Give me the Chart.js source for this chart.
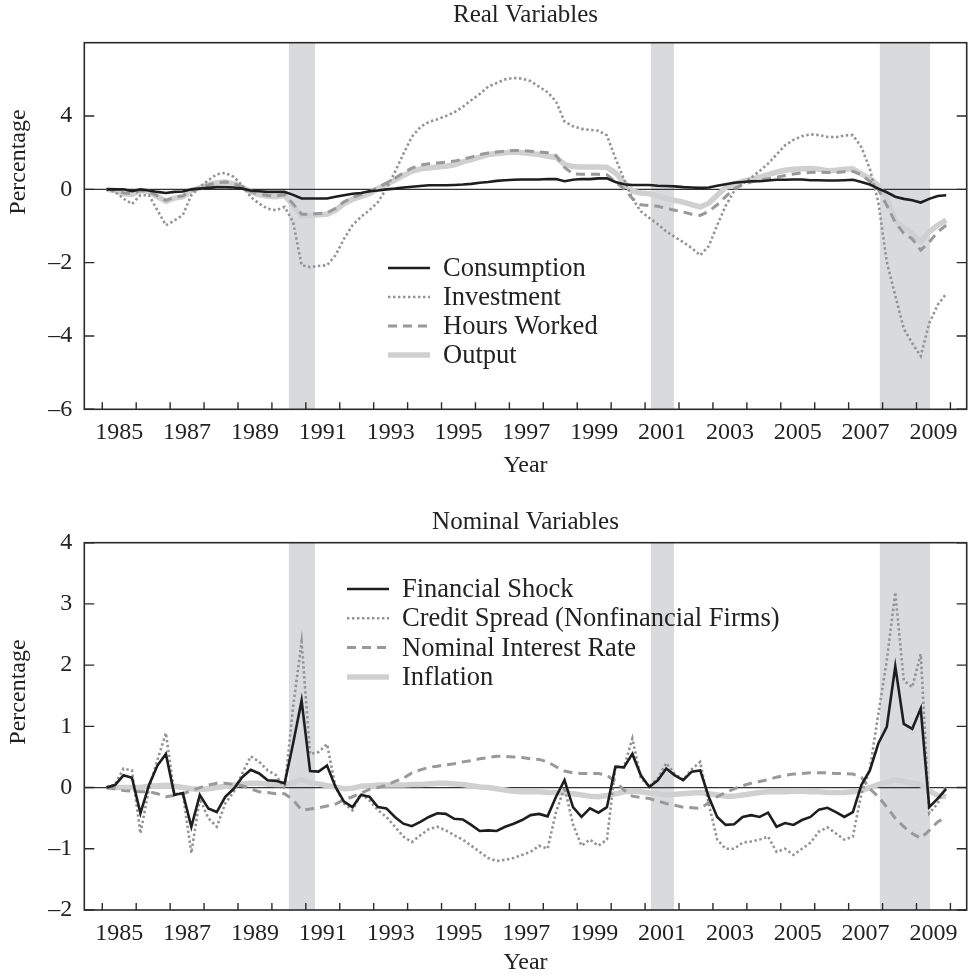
<!DOCTYPE html>
<html>
<head>
<meta charset="utf-8">
<script src="https://cdn.jsdelivr.net/npm/chart.js@4.4.1/dist/chart.umd.min.js"></script>
<style>
  body { margin: 0; background: #fff; }
  canvas { position: absolute; left: 0; }
  #real { top: 0; }
  #nominal { top: 490px; }
</style>
</head>
<body>
<canvas id="real" width="969" height="490"></canvas>
<canvas id="nominal" width="969" height="488"></canvas>
<script>
// quarters 1985Q1 .. 2009Q4, placed mid-quarter
const quarterX = [];
for (let yr = 1985; yr <= 2009; yr++) {
  for (let q = 1; q <= 4; q++) quarterX.push(yr + (q - 0.5) / 4);
}

const tickYears = [1985,1986,1987,1988,1989,1990,1991,1992,1993,1994,1995,1996,1997,1998,1999,2000,2001,2002,2003,2004,2005,2006,2007,2008,2009,2010];
const labelYears = [1985,1987,1989,1991,1993,1995,1997,1999,2001,2003,2005,2007,2009];
const xTickLabels = ["1985","1987","1989","1991","1993","1995","1997","1999","2001","2003","2005","2007","2009"];

const recessionStart = [1990.5, 2001.17, 2007.92];
const recessionEnd = [1991.27, 2001.85, 2009.4];

const realTicks = [-6, -4, -2, 0, 2];
const realTickLabels = ["\u20136", "\u20134", "\u20132", "0", "4"];
const nominalTicks = [-2, -1, 0, 1, 2, 3, 4];
const nominalTickLabels = ["\u20132", "\u20131", "0", "1", "2", "3", "4"];

// Real variables
const consumption = [
  0, 0, 0, -0.05, 0, -0.03, -0.07, -0.1, -0.07, -0.06,
  0, 0.02, 0.04, 0.06, 0.06, 0.05, 0.02, -0.03, -0.05, -0.07,
  -0.07, -0.07, -0.15, -0.25, -0.25, -0.25, -0.25, -0.2, -0.16, -0.12,
  -0.1, -0.05, -0.03, 0, 0.02, 0.05, 0.07, 0.09, 0.11, 0.11,
  0.11, 0.12, 0.13, 0.15, 0.18, 0.2, 0.23, 0.25, 0.26, 0.27,
  0.27, 0.27, 0.28, 0.28, 0.22, 0.26, 0.28, 0.28, 0.3, 0.3,
  0.2, 0.14, 0.12, 0.12, 0.12, 0.1, 0.09, 0.08, 0.06, 0.05,
  0.04, 0.05, 0.1, 0.14, 0.18, 0.2, 0.22, 0.22, 0.24, 0.26,
  0.26, 0.27, 0.27, 0.25, 0.25, 0.24, 0.24, 0.25, 0.26, 0.2,
  0.13, 0.02, -0.08, -0.2, -0.26, -0.3, -0.36, -0.26, -0.18, -0.16
];
const investment = [
  0, -0.07, -0.25, -0.4, -0.16, -0.16, -0.57, -0.98, -0.85, -0.7,
  -0.16, 0.06, 0.25, 0.41, 0.45, 0.34, 0.11, -0.21, -0.39, -0.53,
  -0.57, -0.48, -0.89, -2.07, -2.12, -2.09, -2.07, -1.8, -1.35, -0.98,
  -0.75, -0.57, -0.35, 0.02, 0.47, 0.97, 1.43, 1.7, 1.84, 1.91,
  2.0, 2.1, 2.25, 2.43, 2.6, 2.8, 2.9, 3.0, 3.04, 3.02,
  2.95, 2.8, 2.65, 2.4, 1.85, 1.72, 1.65, 1.62, 1.6, 1.47,
  0.85, 0.28, -0.25, -0.6, -0.78, -0.95, -1.15, -1.3, -1.44, -1.6,
  -1.8, -1.55, -0.98, -0.45, -0.05, 0.15, 0.32, 0.5, 0.7, 0.95,
  1.2, 1.35, 1.45, 1.5, 1.48, 1.43, 1.42, 1.47, 1.48, 1.15,
  0.56, -0.35, -1.98, -2.9, -3.8, -4.2, -4.55, -3.65, -3.15, -2.85
];
const hoursWorked = [
  0, -0.02, -0.1, -0.12, -0.03, -0.06, -0.18, -0.3, -0.22, -0.18,
  -0.03, 0.04, 0.12, 0.18, 0.2, 0.16, 0.07, -0.06, -0.13, -0.17,
  -0.18, -0.15, -0.4, -0.68, -0.68, -0.66, -0.64, -0.52, -0.34, -0.22,
  -0.14, -0.06, 0.05, 0.17, 0.3, 0.45, 0.58, 0.66, 0.7, 0.72,
  0.74, 0.77, 0.82, 0.88, 0.95, 0.99, 1.02, 1.04, 1.06, 1.06,
  1.04, 1.02, 1.0, 0.92, 0.6, 0.42, 0.41, 0.41, 0.41, 0.4,
  0.2, 0.02, -0.25, -0.42, -0.44, -0.46, -0.52, -0.57, -0.62, -0.68,
  -0.71, -0.6, -0.42, -0.2, 0.02, 0.12, 0.2, 0.25, 0.29, 0.33,
  0.38, 0.42, 0.45, 0.46, 0.47, 0.46, 0.46, 0.48, 0.49, 0.4,
  0.22, 0, -0.44, -0.9, -1.2, -1.35, -1.66, -1.44, -1.16, -0.98
];
const output = [
  0, -0.03, -0.12, -0.14, -0.03, -0.07, -0.2, -0.33, -0.24, -0.2,
  -0.03, 0.04, 0.13, 0.18, 0.2, 0.15, 0.06, -0.07, -0.15, -0.19,
  -0.2, -0.16, -0.44, -0.73, -0.71, -0.69, -0.68, -0.57, -0.39, -0.27,
  -0.2, -0.12, 0.02, 0.13, 0.25, 0.38, 0.49, 0.56, 0.58, 0.61,
  0.63, 0.67, 0.75, 0.81, 0.88, 0.95, 0.98, 1.0, 1.02, 1.0,
  0.98, 0.95, 0.9, 0.87, 0.68, 0.62, 0.61, 0.61, 0.61, 0.6,
  0.45, 0.2, -0.05, -0.1, -0.12, -0.18, -0.25, -0.3, -0.35, -0.42,
  -0.48, -0.38, -0.16, 0.05, 0.15, 0.22, 0.27, 0.33, 0.4, 0.47,
  0.52, 0.55, 0.56, 0.57, 0.55, 0.51, 0.52, 0.55, 0.56, 0.42,
  0.3, 0.1, -0.25, -0.85, -1.05, -1.2, -1.44, -1.16, -0.98, -0.84
];

// Nominal variables
const financialShock = [
  0, 0.04, 0.2, 0.16, -0.42, 0.04, 0.36, 0.55, -0.12, -0.09,
  -0.64, -0.12, -0.34, -0.4, -0.15, -0.02, 0.17, 0.29, 0.23, 0.12,
  0.11, 0.07, 0.72, 1.42, 0.27, 0.26, 0.36, 0.01, -0.23, -0.32,
  -0.12, -0.15, -0.32, -0.34, -0.48, -0.59, -0.63, -0.56, -0.48, -0.42,
  -0.43, -0.51, -0.52, -0.61, -0.71, -0.7, -0.71, -0.64, -0.59, -0.53,
  -0.45, -0.43, -0.47, -0.15, 0.12, -0.32, -0.48, -0.34, -0.41, -0.32,
  0.34, 0.33, 0.55, 0.2, 0.01, 0.12, 0.31, 0.2, 0.12, 0.26,
  0.28, -0.15, -0.48, -0.61, -0.6, -0.48, -0.45, -0.48, -0.41, -0.64,
  -0.58, -0.61, -0.53, -0.48, -0.36, -0.33, -0.4, -0.48, -0.4, 0.04,
  0.28, 0.72, 0.99, 1.98, 1.04, 0.96, 1.29, -0.32, -0.18, -0.02
];
const creditSpread = [
  0, 0.05, 0.31, 0.28, -0.75, -0.02, 0.45, 0.89, -0.1, -0.1,
  -1.07, -0.18, -0.5, -0.64, -0.26, -0.07, 0.23, 0.51, 0.42, 0.28,
  0.2, -0.02, 1.32, 2.38, 0.55, 0.58, 0.71, 0.01, -0.26, -0.37,
  -0.1, -0.21, -0.37, -0.48, -0.64, -0.8, -0.89, -0.78, -0.68, -0.64,
  -0.7, -0.78, -0.85, -0.95, -1.05, -1.15, -1.2, -1.18, -1.15, -1.1,
  -1.05, -0.95, -1.0, -0.4, 0, -0.6, -0.95, -0.85, -0.95, -0.85,
  0.34, 0.33, 0.8, 0.15, 0.02, 0.15, 0.4, 0.22, 0.13, 0.3,
  0.42, -0.26, -0.85, -1.0, -1.0, -0.9, -0.88, -0.85, -0.8, -1.05,
  -1.0, -1.1, -1.0, -0.9, -0.72, -0.65, -0.75, -0.85, -0.8, -0.1,
  0.3, 1.2, 2.08, 3.19, 1.75, 1.64, 2.18, -0.42, -0.26, 0.04
];
const interestRate = [
  0, -0.02, -0.05, -0.06, -0.07, -0.07, -0.1, -0.15, -0.13, -0.1,
  -0.05, 0, 0.04, 0.07, 0.07, 0.05, 0.03, -0.02, -0.07, -0.08,
  -0.1, -0.1, -0.2, -0.37, -0.35, -0.33, -0.3, -0.27, -0.2, -0.15,
  -0.09, -0.03, 0, 0.04, 0.1, 0.15, 0.24, 0.29, 0.33, 0.35,
  0.37, 0.39, 0.42, 0.44, 0.47, 0.49, 0.51, 0.51, 0.5, 0.49,
  0.47, 0.46, 0.42, 0.34, 0.27, 0.24, 0.23, 0.23, 0.23, 0.2,
  0.1, -0.04, -0.14, -0.16, -0.18, -0.22, -0.26, -0.29, -0.32, -0.33,
  -0.34, -0.25, -0.15, -0.08, -0.02, 0.03, 0.07, 0.1, 0.13, 0.17,
  0.2, 0.22, 0.23, 0.24, 0.24, 0.24, 0.23, 0.23, 0.22, 0.17,
  -0.02, -0.15, -0.32, -0.5, -0.64, -0.75, -0.83, -0.7, -0.56, -0.48
];
const inflation = [
  0, 0, 0, 0, 0, 0.02, 0.03, 0.04, 0.02, 0,
  -0.02, -0.03, -0.02, 0, 0.02, 0.04, 0.06, 0.07, 0.07, 0.06,
  0.05, 0.05, 0.08, 0.13, 0.08, 0.06, 0.03, 0.01, -0.02, -0.01,
  0.02, 0.03, 0.04, 0.04, 0.04, 0.04, 0.05, 0.05, 0.06, 0.07,
  0.07, 0.06, 0.05, 0.03, 0.01, 0, -0.02, -0.04, -0.06, -0.07,
  -0.07, -0.07, -0.08, -0.08, -0.09, -0.1, -0.12, -0.14, -0.15, -0.13,
  -0.1, -0.07, -0.06, -0.07, -0.09, -0.1, -0.12, -0.11, -0.1, -0.09,
  -0.08, -0.1, -0.12, -0.14, -0.14, -0.12, -0.1, -0.08, -0.07, -0.07,
  -0.07, -0.06, -0.06, -0.07, -0.07, -0.08, -0.08, -0.08, -0.07, -0.05,
  0, 0.05, 0.08, 0.13, 0.1, 0.07, 0.05, -0.05, -0.13, -0.15
];

const SERIF = '"Liberation Serif", "DejaVu Serif", serif';
const INK = "#222";

function pts(arr) {
  return quarterX.map((x, i) => ({ x: x, y: arr[i] }));
}

function solidLine(label, arr) {
  return { label: label, data: pts(arr), borderColor: "#1e1e1e", borderWidth: 2.6, pointRadius: 0, tension: 0 };
}
function dottedLine(label, arr) {
  return { label: label, data: pts(arr), borderColor: "#939393", borderWidth: 2.6, borderDash: [2.4, 2.6], pointRadius: 0, tension: 0 };
}
function dashedLine(label, arr) {
  return { label: label, data: pts(arr), borderColor: "#999", borderWidth: 3, borderDash: [9, 6], pointRadius: 0, tension: 0 };
}
function thickLine(label, arr) {
  return { label: label, data: pts(arr), borderColor: "#d0d0d0", borderWidth: 5.5, pointRadius: 0, tension: 0, borderJoinStyle: "round" };
}

// shading, zero line, frame, inward ticks, legend and panel texts
const decor = {
  id: "decor",
  beforeDatasetsDraw(chart, args, opts) {
    const { ctx, chartArea: a } = chart;
    const x = chart.scales.x, y = chart.scales.y;
    ctx.save();
    ctx.fillStyle = "#d9dadc";
    recessionStart.forEach((s, i) => {
      const x0 = x.getPixelForValue(s);
      const x1 = x.getPixelForValue(recessionEnd[i]);
      ctx.fillRect(x0, a.top, x1 - x0, a.bottom - a.top);
    });
    const y0 = y.getPixelForValue(0);
    ctx.strokeStyle = "#333";
    ctx.lineWidth = 1.2;
    ctx.beginPath();
    ctx.moveTo(a.left, y0);
    ctx.lineTo(a.right, y0);
    ctx.stroke();
    ctx.restore();
  },
  afterDraw(chart, args, opts) {
    const { ctx, chartArea: a } = chart;
    const x = chart.scales.x, y = chart.scales.y;
    ctx.save();
    ctx.strokeStyle = "#2a2a2a";
    ctx.lineWidth = 1.6;
    ctx.strokeRect(a.left, a.top, a.right - a.left, a.bottom - a.top);

    ctx.lineWidth = 1.4;
    ctx.beginPath();
    y.ticks.forEach(t => {
      const py = y.getPixelForValue(t.value);
      ctx.moveTo(a.left, py); ctx.lineTo(a.left + 10, py);
      ctx.moveTo(a.right, py); ctx.lineTo(a.right - 10, py);
    });
    tickYears.forEach(v => {
      const px = x.getPixelForValue(v);
      ctx.moveTo(px, a.bottom); ctx.lineTo(px, a.bottom - 7);
    });
    ctx.stroke();

    // legend inside the plot
    const lg = opts.legend;
    ctx.font = "26.5px " + SERIF;
    ctx.fillStyle = INK;
    ctx.textBaseline = "middle";
    ctx.textAlign = "left";
    chart.data.datasets.forEach((ds, i) => {
      const ry = lg.y + i * lg.gap;
      ctx.save();
      ctx.strokeStyle = ds.borderColor;
      ctx.lineWidth = ds.borderWidth;
      ctx.setLineDash(ds.borderDash || []);
      ctx.beginPath();
      ctx.moveTo(lg.x0, ry); ctx.lineTo(lg.x1, ry);
      ctx.stroke();
      ctx.restore();
      ctx.fillText(ds.label, lg.tx, ry + 1);
    });

    // titles
    const cx = (a.left + a.right) / 2;
    ctx.textAlign = "center";
    ctx.font = "25px " + SERIF;
    ctx.fillText(opts.title, cx, opts.titleY);
    ctx.font = "24px " + SERIF;
    ctx.fillText("Year", cx, opts.yearY);
    ctx.translate(opts.pctX, opts.pctY);
    ctx.rotate(-Math.PI / 2);
    ctx.fillText("Percentage", 0, 0);
    ctx.restore();
  }
};

function panelOptions(yMin, yMax, yTicks, yTickLabels, padTop, padBottom, decorOpts) {
  return {
    responsive: false,
    animation: false,
    layout: { padding: { top: padTop, bottom: padBottom, left: 0, right: 2.3 } },
    plugins: { legend: { display: false }, tooltip: { enabled: false }, decor: decorOpts },
    scales: {
      x: {
        type: "linear",
        min: 1984.47,
        max: 2010.48,
        afterBuildTicks: s => { s.ticks = labelYears.map(v => ({ value: v + 0.5 })); },
        afterFit: s => { s.height = 40; },
        grid: { display: false, drawTicks: false },
        border: { display: false },
        ticks: {
          autoSkip: false, maxRotation: 0, padding: 9, color: INK,
          font: { family: SERIF, size: 24 },
          callback: (v, i) => xTickLabels[i]
        }
      },
      y: {
        min: yMin,
        max: yMax,
        afterBuildTicks: s => { s.ticks = yTicks.map(v => ({ value: v })); },
        afterFit: s => { s.width = 84.3; },
        grid: { display: false, drawTicks: false },
        border: { display: false },
        ticks: {
          padding: 12, color: INK,
          font: { family: SERIF, size: 24 },
          callback: (v, i) => yTickLabels[i]
        }
      }
    }
  };
}

new Chart(document.getElementById("real"), {
  type: "line",
  data: {
    datasets: [
      solidLine("Consumption", consumption),
      dottedLine("Investment", investment),
      dashedLine("Hours Worked", hoursWorked),
      thickLine("Output", output)
    ]
  },
  options: panelOptions(-6, 4, realTicks, realTickLabels, 42.7, 40.7, {
    title: "Real Variables", titleY: 15, yearY: 466, pctX: 19, pctY: 162,
    legend: { x0: 388, x1: 430, tx: 443, y: 268, gap: 29 }
  }),
  plugins: [decor]
});

new Chart(document.getElementById("nominal"), {
  type: "line",
  data: {
    datasets: [
      solidLine("Financial Shock", financialShock),
      dottedLine("Credit Spread (Nonfinancial Firms)", creditSpread),
      dashedLine("Nominal Interest Rate", interestRate),
      thickLine("Inflation", inflation)
    ]
  },
  options: panelOptions(-2, 4, nominalTicks, nominalTickLabels, 52.7, 28, {
    title: "Nominal Variables", titleY: 32, yearY: 473, pctX: 19, pctY: 202,
    legend: { x0: 347, x1: 389, tx: 402, y: 99, gap: 29.3 }
  }),
  plugins: [decor]
});
</script>
</body>
</html>
